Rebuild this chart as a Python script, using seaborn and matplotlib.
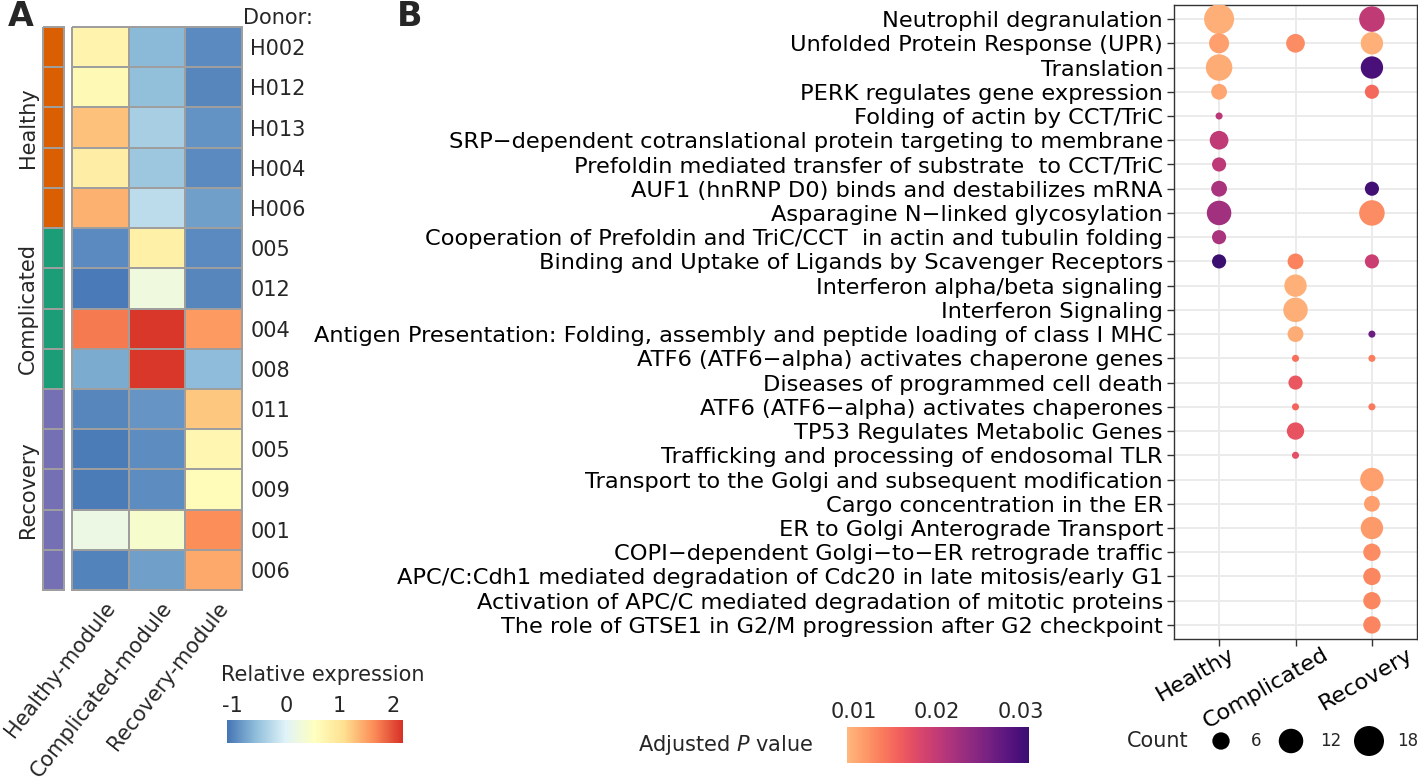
import numpy as np
import pandas as pd
import matplotlib
matplotlib.use("Agg")
import matplotlib.pyplot as plt
import seaborn as sns
from matplotlib.colors import LinearSegmentedColormap, ListedColormap, Normalize
import matplotlib.cm as cm
import matplotlib.transforms as mtransforms

# ---------------- Panel A data ----------------
donors = ["H002", "H012", "H013", "H004", "H006", "005", "012", "004", "008",
          "011", "005", "009", "001", "006"]
donor_groups = ["Healthy"] * 5 + ["Complicated"] * 4 + ["Recovery"] * 5
group_names = ["Healthy", "Complicated", "Recovery"]
modules = ["Healthy-module", "Complicated-module", "Recovery-module"]
healthy_module = [0.75, 0.65, 1.3, 0.85, 1.4, -0.95, -1.07, 1.75, -0.7, -0.97, -1.05, -1.05, 0.2, -1.0]
complicated_module = [-0.6, -0.55, -0.4, -0.47, -0.25, 0.8, 0.25, 2.15, 2.15, -0.87, -0.93, -0.93, 0.4, -0.8]
recovery_module = [-0.95, -0.98, -0.88, -0.95, -0.8, -0.95, -0.97, 1.55, -0.58, 1.25, 0.7, 0.6, 1.63, 1.45]
expr_ticks = [-1, 0, 1, 2]

# ---------------- Panel B data ----------------
pathways = [
    "Neutrophil degranulation",
    "Unfolded Protein Response (UPR)",
    "Translation",
    "PERK regulates gene expression",
    "Folding of actin by CCT/TriC",
    "SRP\u2212dependent cotranslational protein targeting to membrane",
    "Prefoldin mediated transfer of substrate  to CCT/TriC",
    "AUF1 (hnRNP D0) binds and destabilizes mRNA",
    "Asparagine N\u2212linked glycosylation",
    "Cooperation of Prefoldin and TriC/CCT  in actin and tubulin folding",
    "Binding and Uptake of Ligands by Scavenger Receptors",
    "Interferon alpha/beta signaling",
    "Interferon Signaling",
    "Antigen Presentation: Folding, assembly and peptide loading of class I MHC",
    "ATF6 (ATF6\u2212alpha) activates chaperone genes",
    "Diseases of programmed cell death",
    "ATF6 (ATF6\u2212alpha) activates chaperones",
    "TP53 Regulates Metabolic Genes",
    "Trafficking and processing of endosomal TLR",
    "Transport to the Golgi and subsequent modification",
    "Cargo concentration in the ER",
    "ER to Golgi Anterograde Transport",
    "COPI\u2212dependent Golgi\u2212to\u2212ER retrograde traffic",
    "APC/C:Cdh1 mediated degradation of Cdc20 in late mitosis/early G1",
    "Activation of APC/C mediated degradation of mitotic proteins",
    "The role of GTSE1 in G2/M progression after G2 checkpoint",
]
N = None
healthy_count = [18, 8, 14, 5, 1, 7, 4, 5, 12, 4, 4, N, N, N, N, N, N, N, N, N, N, N, N, N, N, N]
healthy_padj = [0.001, 0.0025, 0.0012, 0.002, 0.0167, 0.016, 0.0163, 0.0187, 0.0197, 0.0187, 0.032,
                N, N, N, N, N, N, N, N, N, N, N, N, N, N, N]
complicated_count = [N, 7, N, N, N, N, N, N, N, N, 5, 10, 12, 5, 1, 4, 1, 6, 1, N, N, N, N, N, N, N]
complicated_padj = [N, 0.0045, N, N, N, N, N, N, N, N, 0.0054, 0.0008, 0.001, 0.0013, 0.0074, 0.0103,
                    0.0084, 0.0108, 0.0113, N, N, N, N, N, N, N]
recovery_count = [13, 10, 10, 4, N, N, N, 4, 13, N, 4, N, N, 1, 1, N, 1, N, N, 11, 5, 10, 6, 6, 6, 6]
recovery_padj = [0.016, 0.0008, 0.030, 0.008, N, N, N, 0.031, 0.0045, N, 0.0148, N, N, 0.026, 0.006, N,
                 0.0064, N, N, 0.0025, 0.0025, 0.003, 0.0044, 0.005, 0.005, 0.0052]
count_legend = [6, 12, 18]
p_ticks = [0.01, 0.02, 0.03]

# ---------------- style ----------------
sns.set_theme(style="white")
plt.rcParams["font.family"] = ["DejaVu Sans"]
plt.rcParams["mathtext.fontset"] = "custom"
plt.rcParams["mathtext.rm"] = "DejaVu Sans"
plt.rcParams["mathtext.it"] = "DejaVu Sans:italic"
FS = 15
FS_B = 16.2

W, H = 1418, 782
fig = plt.figure(figsize=(W / 100, H / 100), dpi=100)


def px_axes(x0, y0, x1, y1):
    return fig.add_axes([x0 / W, 1 - y1 / H, (x1 - x0) / W, (y1 - y0) / H])


def shift(artist, dx_px, dy_px=0):
    artist.set_transform(artist.get_transform() +
                         mtransforms.ScaledTranslation(dx_px / 100, -dy_px / 100, fig.dpi_scale_trans))


# ---------------- Panel A ----------------
mat = np.column_stack([healthy_module, complicated_module, recovery_module])
expr_cmap = LinearSegmentedColormap.from_list(
    "rdylbu", ["#4575B4", "#91BFDB", "#E0F3F8", "#FFFFBF", "#FEE090", "#FC8D59", "#D73027"])
ax_hm = px_axes(72, 27, 242, 590)
cax_hm = px_axes(227, 720, 403, 743)
sns.heatmap(mat, ax=ax_hm, cmap=expr_cmap, vmin=-1.11, vmax=2.19, linewidths=1.1,
            linecolor="#9E9E9E", cbar=True, cbar_ax=cax_hm,
            cbar_kws={"orientation": "horizontal", "ticks": expr_ticks},
            xticklabels=modules, yticklabels=donors)
for c in ax_hm.collections:
    c.set_clip_on(False)
ax_hm.yaxis.tick_right()
ax_hm.tick_params(axis="y", length=0, pad=6, labelsize=FS, rotation=0)
ax_hm.tick_params(axis="x", length=0, pad=6, labelsize=FS)
for lab in ax_hm.get_xticklabels():
    lab.set_rotation(52)
    lab.set_ha("right")
    lab.set_va("top")
    lab.set_rotation_mode("anchor")
    shift(lab, 3)
cax_hm.xaxis.set_ticks_position("top")
cax_hm.tick_params(axis="x", length=0, pad=3, labelsize=FS)
cax_hm.set_xticklabels(["-1", "0", "1", "2"])
fig.text(323 / W, 1 - 675 / H, "Relative expression", ha="center", va="center", fontsize=FS)

# annotation bar
group_codes = np.array([group_names.index(g) for g in donor_groups]).reshape(-1, 1)
ax_ann = px_axes(43, 27, 64, 590)
sns.heatmap(group_codes, ax=ax_ann, cmap=ListedColormap(["#D95F02", "#1B9E77", "#7570B3"]),
            vmin=-0.5, vmax=2.5, cbar=False, linewidths=1.1, linecolor="#9E9E9E",
            xticklabels=False, yticklabels=False)
for c in ax_ann.collections:
    c.set_clip_on(False)
for gi, g in enumerate(group_names):
    rows = [i for i, d in enumerate(donor_groups) if d == g]
    ax_ann.text(-0.72, (rows[0] + rows[-1] + 1) / 2, g, rotation=90, ha="center", va="center",
                fontsize=FS)
fig.text(243 / W, 1 - 18 / H, "Donor:", ha="left", va="center", fontsize=FS)
fig.text(8 / W, 1 - 17 / H, "A", ha="left", va="center", fontsize=24, fontweight="bold")

# ---------------- Panel B ----------------
p_cmap = ListedColormap(plt.get_cmap("magma")(np.linspace(0.85, 0.2, 256)))
p_norm = Normalize(0.0, 0.032)
S_MAX = (30 * 0.72) ** 2   # marker area (pt^2) for a count of 18

rows = []
for gi, (cnts, pvs) in enumerate([(healthy_count, healthy_padj),
                                   (complicated_count, complicated_padj),
                                   (recovery_count, recovery_padj)]):
    for pi, (c, p) in enumerate(zip(cnts, pvs)):
        if c is not None:
            rows.append({"x": gi, "y": pi, "count": c, "padj": p})
df = pd.DataFrame(rows)

ax_dot = px_axes(1174, 5, 1417, 639)
ax_dot.set_axisbelow(True)
ax_dot.grid(True, color="#EBEBEB", linewidth=1.4)
sns.scatterplot(data=df, x="x", y="y", hue="padj", size="count", palette=p_cmap, hue_norm=p_norm,
                sizes=(0, S_MAX), size_norm=(0, 18), linewidth=0, legend=False, ax=ax_dot, zorder=3)
ax_dot.set_xlim(-0.59, 2.59)
ax_dot.set_ylim(25.58, -0.58)
ax_dot.set_xticks(range(len(group_names)))
ax_dot.set_xticklabels(group_names)
ax_dot.set_yticks(range(len(pathways)))
ax_dot.set_yticklabels(pathways)
ax_dot.set_xlabel("")
ax_dot.set_ylabel("")
for s in ax_dot.spines.values():
    s.set_color("#333333")
    s.set_linewidth(1.0)
ax_dot.tick_params(axis="both", length=5, width=1.0, color="#333333", direction="out",
                   labelsize=FS_B, labelcolor="black", bottom=True, left=True)
ax_dot.tick_params(axis="y", pad=3)
ax_dot.tick_params(axis="x", pad=1)
for lab, dx in zip(ax_dot.get_xticklabels(), [9, 26, 34]):
    lab.set_rotation(30)
    lab.set_ha("right")
    lab.set_va("top")
    lab.set_rotation_mode("anchor")
    shift(lab, dx, -3)
fig.text(397 / W, 1 - 17 / H, "B", ha="left", va="center", fontsize=24, fontweight="bold")

# p-value colourbar
cax_p = px_axes(847, 727, 1029, 763)
cb = fig.colorbar(cm.ScalarMappable(norm=p_norm, cmap=p_cmap), cax=cax_p, orientation="horizontal")
cb.outline.set_visible(False)
cb.set_ticks(p_ticks)
cax_p.tick_params(axis="x", which="both", direction="in", color="white", length=7, width=1,
                  top=True, bottom=True, labelbottom=False)
for frac, t in zip([0.038, 0.495, 0.956], p_ticks):
    cax_p.text(frac, 1.15, f"{t:.2f}", transform=cax_p.transAxes, ha="center", va="bottom",
               fontsize=FS)
fig.text(638 / W, 1 - 745 / H, "Adjusted $P$ value", ha="left", va="center", fontsize=FS)

# count legend
ax_leg = px_axes(1110, 720, 1418, 762)
ax_leg.set_xlim(1110, 1418)
ax_leg.set_ylim(0, 1)
ax_leg.axis("off")
leg_x = [1221, 1291, 1369]
ax_leg.scatter(leg_x, [0.5] * 3, s=[S_MAX * c / 18 for c in count_legend], color="black",
               linewidth=0, clip_on=False)
for x, c in zip([1256, 1331, 1408], count_legend):
    ax_leg.text(x, 0.5, str(c), ha="center", va="center", fontsize=12)
fig.text(1127 / W, 1 - 741 / H, "Count", ha="left", va="center", fontsize=FS)

fig.savefig("out.png", dpi=100)
